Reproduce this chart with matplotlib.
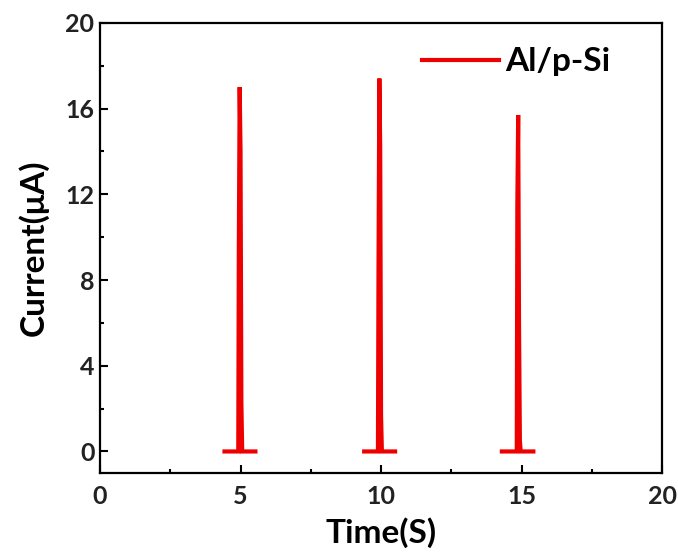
import matplotlib
matplotlib.use("Agg")
import matplotlib.pyplot as plt
from matplotlib.ticker import MultipleLocator

time_s = [4.43, 4.92, 4.94, 4.97, 5.00, 5.03, 5.06, 5.53,
          9.40, 9.89, 9.91, 9.94, 9.97, 10.00, 10.03, 10.50,
          14.30, 14.83, 14.85, 14.88, 14.91, 14.94, 14.97, 15.42]
current_uA = [0, 0, 9.5, 17.0, 14.0, 2.3, 0, 0,
              0, 0, 8.4, 17.4, 14.2, 1.7, 0, 0,
              0, 0, 11.4, 15.7, 5.9, 0.5, 0, 0]
segments = [(0, 8), (8, 16), (16, 24)]
series_label = "Al/p-Si"
xticks = [0, 5, 10, 15, 20]
yticks = [0, 4, 8, 12, 16, 20]

plt.rcParams['font.family'] = ['Lato', 'DejaVu Sans']
fig = plt.figure(figsize=(6.78, 5.57), dpi=100)
ax = fig.add_axes([0.1475, 0.151, 0.829, 0.808])

color = '#ee0000'
for i, (a, b) in enumerate(segments):
    ax.plot(time_s[a:b], current_uA[a:b], color=color, lw=3.0,
            solid_joinstyle='miter', label=series_label if i == 0 else None)

ax.set_xlim(0, 20)
ax.set_ylim(-1, 20)
ax.set_xticks(xticks)
ax.set_yticks(yticks)
ax.xaxis.set_minor_locator(MultipleLocator(2.5))
ax.yaxis.set_minor_locator(MultipleLocator(2))
ax.tick_params(which='both', direction='in', top=False, right=False, width=1.5)
ax.tick_params(which='major', length=6, labelsize=18)
ax.tick_params(axis='x', which='major', pad=9)
ax.tick_params(axis='y', which='major', pad=4)
ax.tick_params(which='minor', length=3)
for lab in ax.get_xticklabels() + ax.get_yticklabels():
    lab.set_fontweight('bold')
    lab.set_color('#222222')
for s in ax.spines.values():
    s.set_linewidth(1.6)

ax.set_xlabel('Time(S)', fontsize=24, fontweight='bold', labelpad=6)
ax.set_ylabel('Current(μA)', fontsize=24, fontweight='bold', labelpad=12)

leg = ax.legend(loc='upper right', frameon=False,
                prop={'weight': 'bold', 'size': 24}, handlelength=2.3,
                handletextpad=0.2, bbox_to_anchor=(0.962, 1.012))

fig.savefig('out.png', dpi=100)
